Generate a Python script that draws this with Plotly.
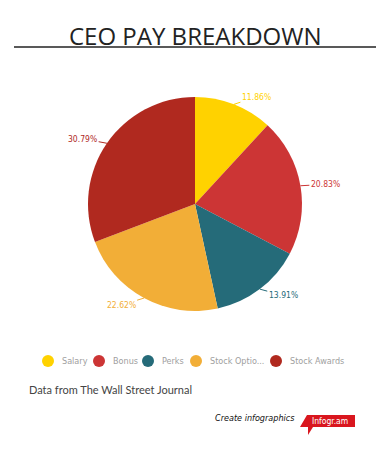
import math
import plotly.graph_objects as go

# ---- data ----
labels = ["Salary", "Bonus", "Perks", "Stock Optio...", "Stock Awards"]
values = [11.86, 20.83, 13.91, 22.62, 30.79]
colors = ["#FFD200", "#CC3535", "#256B79", "#F2AE37", "#B0291F"]
title_text = "CEO PAY BREAKDOWN"
source_text = "Data from The Wall Street Journal"

# ---- layout constants (pixels) ----
W, H = 390, 454
CX, CY, R = 195, 204, 107
LEG_Y = 361
LEG_X = [48, 99, 148, 196, 276]
COND = "DejaVu Sans Condensed"


def px(x):
    return x / W


def py(y):
    return 1 - y / H


fig = go.Figure()
fig.add_trace(go.Pie(
    labels=labels, values=values, sort=False, direction="clockwise", rotation=0,
    marker=dict(colors=colors, line=dict(width=0)),
    textinfo="none", hoverinfo="label+percent", showlegend=False,
    domain=dict(x=[px(CX - R), px(CX + R)], y=[py(CY + R), py(CY - R)]),
))

annotations = []
shapes = []

# slice labels with leader lines, positioned from data
total = sum(values)
cum = 0.0
for lab, v, c in zip(labels, values, colors):
    mid = (cum + v / 2) / total * 2 * math.pi
    cum += v
    s, co = math.sin(mid), math.cos(mid)
    ex, ey = CX + R * s, CY - R * co
    sign = 1 if s >= 0 else -1
    annotations.append(dict(
        x=px(ex), y=py(ey), xref="paper", yref="paper",
        text=f"{v:.2f}%", showarrow=True, arrowhead=0, arrowwidth=1,
        arrowcolor=c, ax=sign * 21 + s * 4, ay=-co * 8,
        font=dict(family=COND, size=8.5, color=c),
    ))

# title + rule
annotations.append(dict(
    x=0.5, y=py(35), xref="paper", yref="paper", text=title_text, showarrow=False,
    xanchor="center", yanchor="middle",
    font=dict(family="Open Sans", size=24, color="#222222"),
))
shapes.append(dict(type="line", xref="paper", yref="paper",
                   x0=px(14), x1=px(376), y0=py(47), y1=py(47),
                   line=dict(color="#222222", width=1.5)))

# legend (circles + labels)
for lab, c, lx in zip(labels, colors, LEG_X):
    shapes.append(dict(type="circle", xref="paper", yref="paper",
                       xsizemode="pixel", ysizemode="pixel",
                       xanchor=px(lx), yanchor=py(LEG_Y),
                       x0=-6, x1=6, y0=-6, y1=6,
                       fillcolor=c, line=dict(width=0)))
    annotations.append(dict(
        x=px(lx + 12), y=py(LEG_Y), xref="paper", yref="paper", text=lab,
        showarrow=False, xanchor="left", yanchor="middle",
        font=dict(family=COND, size=9, color="#A0A0A0"),
    ))

# source
annotations.append(dict(
    x=px(27), y=py(389), xref="paper", yref="paper", text=source_text,
    showarrow=False, xanchor="left", yanchor="middle",
    font=dict(family="Lato", size=11, color="#444444"),
))

# branding
annotations.append(dict(
    x=px(297), y=py(418), xref="paper", yref="paper",
    text="<i>Create infographics</i>", showarrow=False,
    xanchor="right", yanchor="middle",
    font=dict(family=COND, size=9, color="#111111"),
))
pts = [(307, 415), (355, 415), (355, 427), (313, 427), (308, 435), (308, 427), (300, 427)]
path = "M " + " L ".join(f"{px(x)},{py(y)}" for x, y in pts) + " Z"
shapes.append(dict(type="path", xref="paper", yref="paper", path=path,
                   fillcolor="#D9161E", line=dict(width=0)))
annotations.append(dict(
    x=px(330), y=py(421), xref="paper", yref="paper", text="Infogr.am",
    showarrow=False, xanchor="center", yanchor="middle",
    font=dict(family=COND, size=8.5, color="#FFFFFF"),
))

fig.update_layout(
    width=W, height=H, margin=dict(l=0, r=0, t=0, b=0),
    paper_bgcolor="white", plot_bgcolor="white",
    annotations=annotations, shapes=shapes, showlegend=False,
)
fig.write_html("out.html", config={"displayModeBar": False},
               post_script="document.body.style.margin='0';document.body.style.overflow='hidden';")
